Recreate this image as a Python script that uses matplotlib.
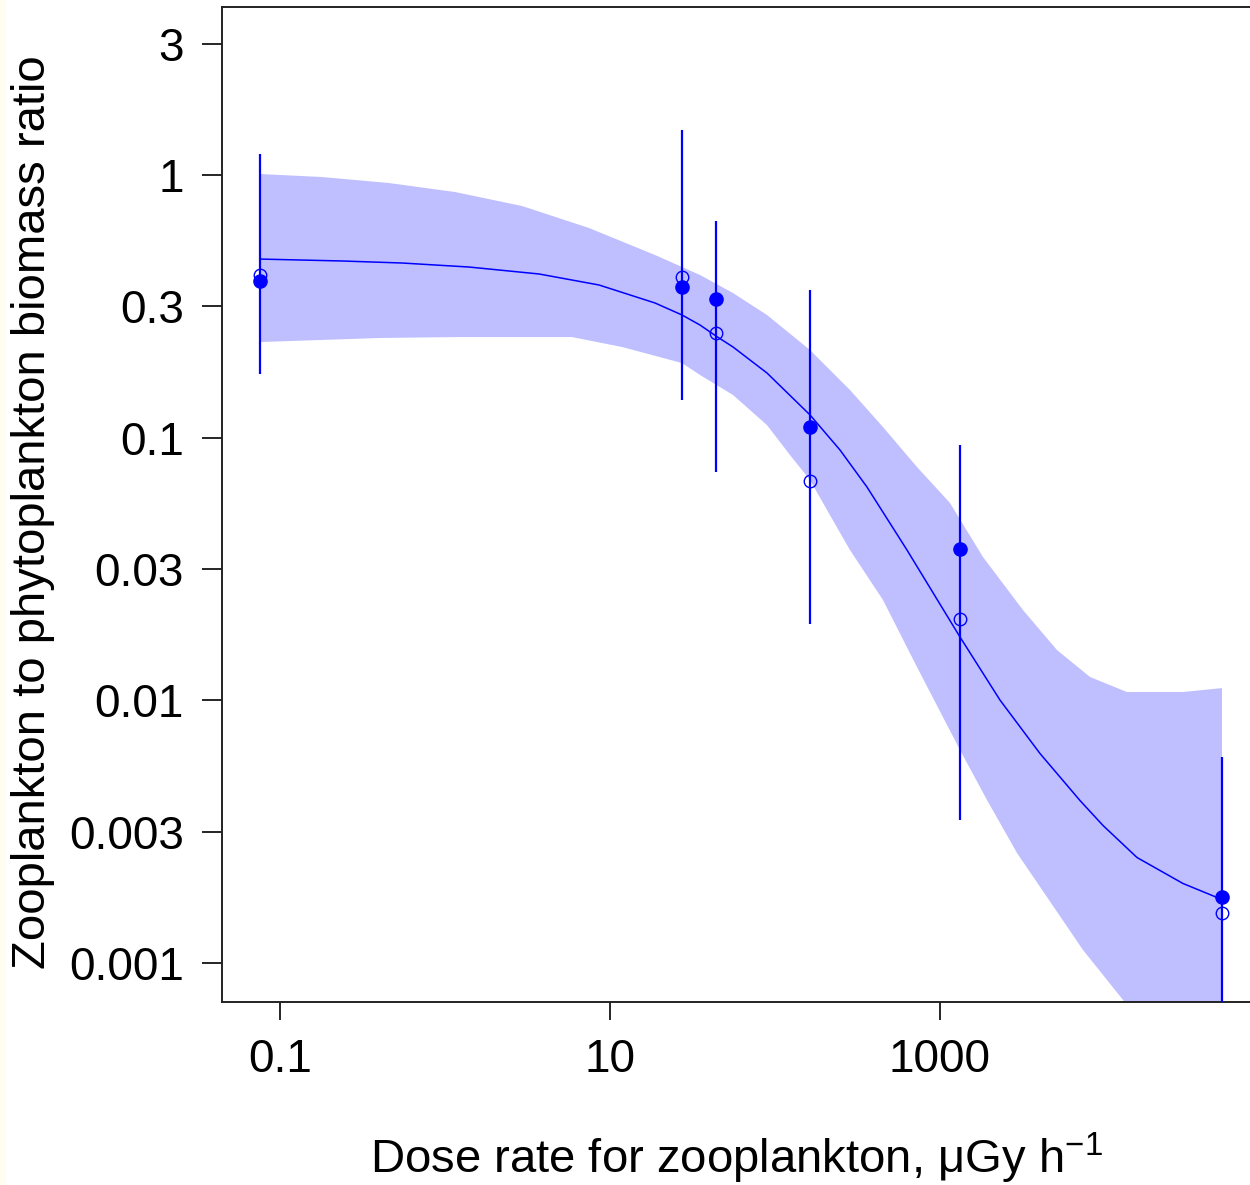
import numpy as np
import matplotlib
matplotlib.use("Agg")
import matplotlib.pyplot as plt
from matplotlib.patches import Rectangle

plt.rcParams['font.family'] = ['Liberation Sans', 'DejaVu Sans']
plt.rcParams['mathtext.fontset'] = 'custom'
plt.rcParams['mathtext.rm'] = 'Liberation Sans'
plt.rcParams['mathtext.it'] = 'Liberation Sans'

# ---- data ----
dose = [0.0756, 27.3, 43.9, 163, 1322, 51180]
ratio_filled = [0.395, 0.375, 0.337, 0.1098, 0.0377, 0.001785]
ratio_open = [0.416, 0.409, 0.250, 0.0684, 0.0204, 0.00155]
err_low = [0.1748, 0.1391, 0.0743, 0.01954, 0.00351, 0.0005]
err_high = [1.197, 1.483, 0.670, 0.365, 0.0942, 0.00611]

fit_x = [0.07562, 0.2375, 0.5488, 1.398, 3.713, 8.577, 18.74, 27.31, 35.12, 43.90,
         55.66, 89.45, 163.0, 247.7, 361.0, 631.0, 1322, 2310, 4037, 7054, 9725,
         15630, 29700, 51180]
fit_y = [0.4787, 0.4707, 0.4624, 0.4464, 0.4200, 0.3814, 0.3257, 0.2932, 0.2685, 0.2438,
         0.2215, 0.1763, 0.1221, 0.0898, 0.0649, 0.03736, 0.01743, 0.01003, 0.006278,
         0.004158, 0.003341, 0.002523, 0.002009, 0.001746]

band_up_x = [0.07562, 0.1797, 0.4577, 1.150, 2.929, 7.458, 18.74, 35.12, 55.66, 89.45,
             163.0, 284.8, 451.3, 725.4, 1150, 1822, 3184, 5118, 8111, 13590, 29700, 51180]
band_up_y = [1.0088, 0.9826, 0.9322, 0.8615, 0.7621, 0.6285, 0.4960, 0.4163, 0.3554, 0.2932,
             0.2157, 0.1519, 0.1098, 0.07735, 0.05641, 0.03514, 0.02208, 0.01555, 0.01228,
             0.01076, 0.01076, 0.01114]

band_lo_x = [0.07562, 0.3981, 1.150, 5.885, 11.82, 27.31, 35.12, 55.66, 89.45, 123.3,
             163.0, 206.7, 284.8, 451.3, 725.4, 1322, 1927, 2929, 7356, 12860, 51180]
band_lo_y = [0.2313, 0.2396, 0.2416, 0.2416, 0.2215, 0.1924, 0.1733, 0.1454, 0.1117, 0.0859,
             0.0690, 0.05306, 0.03736, 0.02411, 0.01340, 0.006475, 0.004177,
             0.002625, 0.001122, 0.000724, 0.000212]

xtick_vals = [0.1, 10, 1000]
xtick_labels = ["0.1", "10", "1000"]
ytick_exponents = [0.5, 0, -0.5, -1, -1.5, -2, -2.5, -3]
ytick_labels = ["3", "1", "0.3", "0.1", "0.03", "0.01", "0.003", "0.001"]

# ---- figure ----
fig = plt.figure(figsize=(12.5, 11.85), dpi=100)
fig.patch.set_facecolor('white')
fig.patches.append(Rectangle((0, 0), 6 / 1250, 1, transform=fig.transFigure,
                             facecolor='#fffdf0', edgecolor='none', zorder=0))

ax = fig.add_axes([222 / 1250, 1 - 1002 / 1185, 1 - 222 / 1250, (1002 - 7) / 1185])
ax.set_xscale('log')
ax.set_yscale('log')

blue = '#0000ff'
poly_x = list(band_up_x) + list(band_lo_x[::-1])
poly_y = list(band_up_y) + list(band_lo_y[::-1])
ax.fill(poly_x, poly_y, color='#bfbfff', lw=0, zorder=1)

ax.plot(fit_x, fit_y, color=blue, lw=1.1, zorder=2)

ax.vlines(dose, err_low, err_high, color=blue, lw=1.6, zorder=3)
ax.plot(dose, ratio_open, 'o', ms=9, mfc='none', mec=blue, mew=1.0, zorder=4)
ax.plot(dose, ratio_filled, 'o', ms=9.5, mfc=blue, mec=blue, zorder=5)

ax.set_xlim(0.04451, 75660)
ax.set_ylim(0.000711, 4.361)

ax.set_xticks(xtick_vals)
ax.set_xticklabels(xtick_labels)
ax.set_yticks([10.0 ** e for e in ytick_exponents])
ax.set_yticklabels(ytick_labels)
ax.minorticks_off()

ax.tick_params(axis='x', direction='out', length=13, width=1.2, pad=13, labelsize=33)
ax.tick_params(axis='y', direction='out', length=14.5, width=1.2, pad=13, labelsize=33)

for s in ['left', 'bottom', 'top']:
    ax.spines[s].set_linewidth(1.4)
    ax.spines[s].set_color('#222222')
ax.spines['right'].set_visible(False)

ax.set_xlabel(r"Dose rate for zooplankton, μGy h$^{-1}$", fontsize=34, labelpad=35)
ax.set_ylabel("Zooplankton to phytoplankton biomass ratio", fontsize=34)
ax.yaxis.set_label_coords(-0.1625, 0.4925)

fig.savefig("out.png", dpi=100)
